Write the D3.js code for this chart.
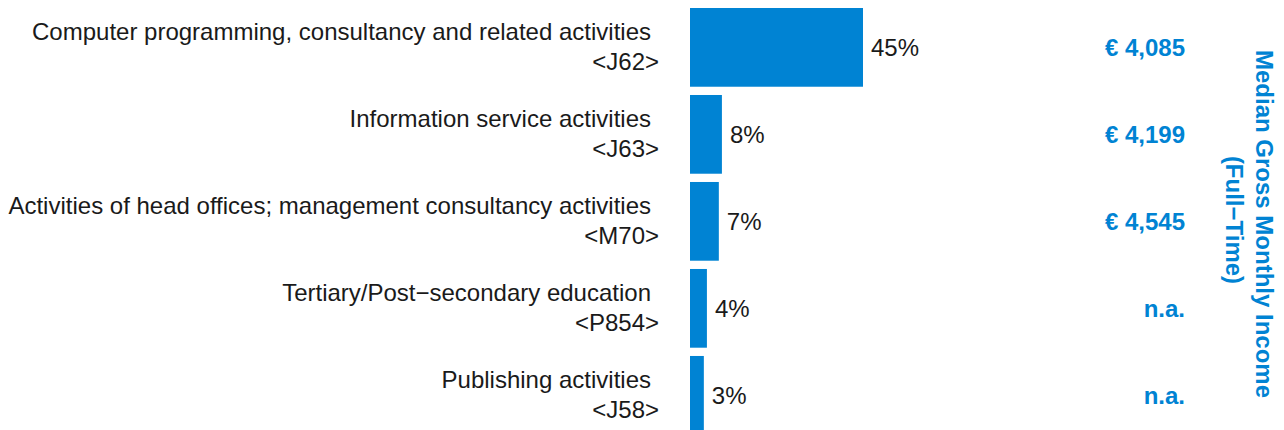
<!DOCTYPE html>
<html>
<head>
<meta charset="utf-8">
<script src="https://cdn.jsdelivr.net/npm/d3@7"></script>
<style>
  html, body { margin: 0; padding: 0; background: #fff; }
  svg { display: block; font-family: "Liberation Sans", Arial, sans-serif; }
</style>
</head>
<body>
<script>
// Data
const categories = [
    'Computer programming, consultancy and related activities',
    'Information service activities',
    'Activities of head offices; management consultancy activities',
    'Tertiary/Post\u2212secondary education',
    'Publishing activities'
];
const codes = ['<J62>', '<J63>', '<M70>', '<P854>', '<J58>'];
const shares = [45, 8.3, 7.5, 4.4, 3.6];
const shareLabels = ['45%', '8%', '7%', '4%', '3%'];
const incomes = ['\u20ac 4,085', '\u20ac 4,199', '\u20ac 4,545', 'n.a.', 'n.a.'];
const incomeTitle = ['Median Gross Monthly Income', '(Full\u2212Time)'];

const width = 1284, height = 430;
const blue = '#0083d3';
const ink = '#1a1a1a';

const svg = d3.select('body').append('svg')
    .attr('width', width)
    .attr('height', height);

// Scales
const y = d3.scaleBand()
    .domain(categories)
    .range([8, 434.7])
    .paddingInner(0.095)
    .paddingOuter(0);

const x = d3.scaleLinear()
    .domain([0, d3.max(shares)])
    .range([690, 863]);

const rows = categories.map((c, i) => ({
    cat: c, code: codes[i], share: shares[i], label: shareLabels[i], income: incomes[i]
}));

// Bars
svg.selectAll('.bar')
    .data(rows)
    .join('rect')
    .attr('class', 'bar')
    .attr('x', x(0))
    .attr('y', d => y(d.cat))
    .attr('width', d => x(d.share) - x(0))
    .attr('height', y.bandwidth())
    .attr('fill', blue);

// Category labels (two lines)
const lab = svg.selectAll('.cat-label')
    .data(rows)
    .join('g')
    .attr('class', 'cat-label')
    .attr('transform', d => `translate(0,${y(d.cat) + y.bandwidth() / 2})`);

lab.append('text')
    .attr('x', 651)
    .attr('y', -7.5)
    .attr('text-anchor', 'end')
    .style('font-size', '24px')
    .style('fill', ink)
    .text(d => d.cat);

lab.append('text')
    .attr('x', 659)
    .attr('y', 23)
    .attr('text-anchor', 'end')
    .style('font-size', '24px')
    .style('fill', ink)
    .text(d => d.code);

// Share labels
svg.selectAll('.share-label')
    .data(rows)
    .join('text')
    .attr('class', 'share-label')
    .attr('x', d => x(d.share) + 8)
    .attr('y', d => y(d.cat) + y.bandwidth() / 2 + 8.6)
    .style('font-size', '24px')
    .style('fill', ink)
    .text(d => d.label);

// Income values
svg.selectAll('.income')
    .data(rows)
    .join('text')
    .attr('class', 'income')
    .attr('x', 1185)
    .attr('y', d => y(d.cat) + y.bandwidth() / 2 + 8.6)
    .attr('text-anchor', 'end')
    .style('font-size', '24px')
    .style('font-weight', 'bold')
    .style('fill', blue)
    .text(d => d.income);

// Right-hand title, rotated
const title = svg.append('g')
    .attr('transform', 'translate(1256,224) rotate(90)');

title.selectAll('text')
    .data(incomeTitle)
    .join('text')
    .attr('x', (d, i) => i * -4)
    .attr('y', (d, i) => i * 30)
    .attr('text-anchor', 'middle')
    .style('font-size', '24px')
    .style('font-weight', 'bold')
    .style('fill', blue)
    .text(d => d);
</script>
</body>
</html>
